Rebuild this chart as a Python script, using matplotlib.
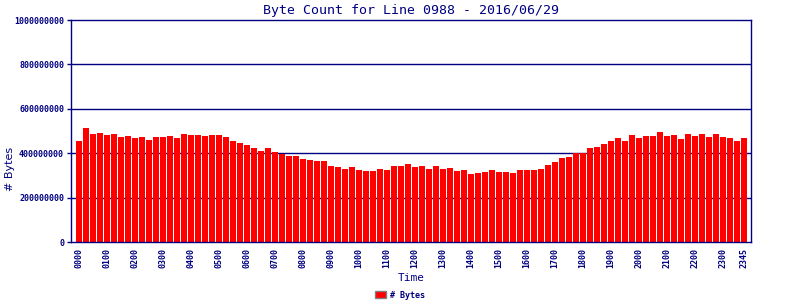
import matplotlib
matplotlib.use("Agg")
import matplotlib.pyplot as plt

# byte counts per 15 minute slot, in millions
byte_counts = [455, 514, 486, 491, 482, 486, 473, 477, 468, 473, 459, 473,
               473, 477, 468, 486, 482, 482, 477, 482, 482, 473, 455, 446,
               437, 423, 410, 423, 405, 398, 387, 387, 374, 369, 365, 365,
               342, 338, 329, 338, 324, 320, 320, 329, 324, 342, 342, 351,
               338, 342, 329, 342, 329, 333, 320, 324, 306, 311, 315, 324,
               315, 315, 311, 324, 324, 324, 329, 347, 360, 378, 383, 401,
               401, 423, 428, 441, 455, 468, 455, 482, 468, 477, 477, 495,
               477, 482, 464, 486, 477, 486, 473, 486, 473, 468, 455, 468]
slots = ['%02d%02d' % (h, m) for h in range(24) for m in (0, 15, 30, 45)]
tick_slots = ['%02d00' % h for h in range(24)] + ['2345']
y_ticks = [0, 200000000, 400000000, 600000000, 800000000, 1000000000]

NAVY = '#000080'
MONO = 'DejaVu Sans Mono'

fig = plt.figure(figsize=(8, 3), dpi=100)
ax = fig.add_axes([71/800, 1-242/300, 680/800, 222/300])

xs = list(range(len(slots)))
values = [v * 1000000 for v in byte_counts]
ax.bar(xs, values, width=6/7, color='#ff0000', zorder=2, label='# Bytes')

ax.set_xlim(-8/7, 96)
ax.set_ylim(0, 1000000000)
for y in y_ticks[1:-1]:
    ax.axhline(y, color=NAVY, lw=1.0, zorder=1)

ax.set_yticks(y_ticks)
ax.set_yticklabels([str(y) for y in y_ticks], family=MONO, fontsize=6, weight='bold', color=NAVY)
tick_pos = [slots.index(s) for s in tick_slots]
ax.set_xticks(tick_pos)
ax.set_xticklabels(tick_slots, rotation=90, family=MONO, fontsize=6, weight='bold', color=NAVY)
ax.tick_params(axis='y', length=3, width=1, color=NAVY, pad=2)
ax.tick_params(axis='x', length=0, pad=4)
for sp in ax.spines.values():
    sp.set_color(NAVY)
    sp.set_linewidth(1.0)

ax.set_title('Byte Count for Line 0988 - 2016/06/29', family=MONO, fontsize=9.5, color=NAVY, pad=4)
ax.set_xlabel('Time', family=MONO, fontsize=8, color=NAVY, labelpad=4)
fig.text(0.012, 131/300, '# Bytes', rotation=90, family='DejaVu Sans', fontsize=8,
         color=NAVY, ha='center', va='center')

leg = fig.legend(loc='center', bbox_to_anchor=(400/800, 1-295/300), frameon=False,
                 prop={'family': MONO, 'size': 6, 'weight': 'bold'},
                 handlelength=1.3, handleheight=0.9, handletextpad=0.4)
for t in leg.get_texts():
    t.set_color(NAVY)
for h in leg.legend_handles:
    h.set_edgecolor('#808080')
    h.set_linewidth(1)

fig.savefig('out.png', dpi=100)
